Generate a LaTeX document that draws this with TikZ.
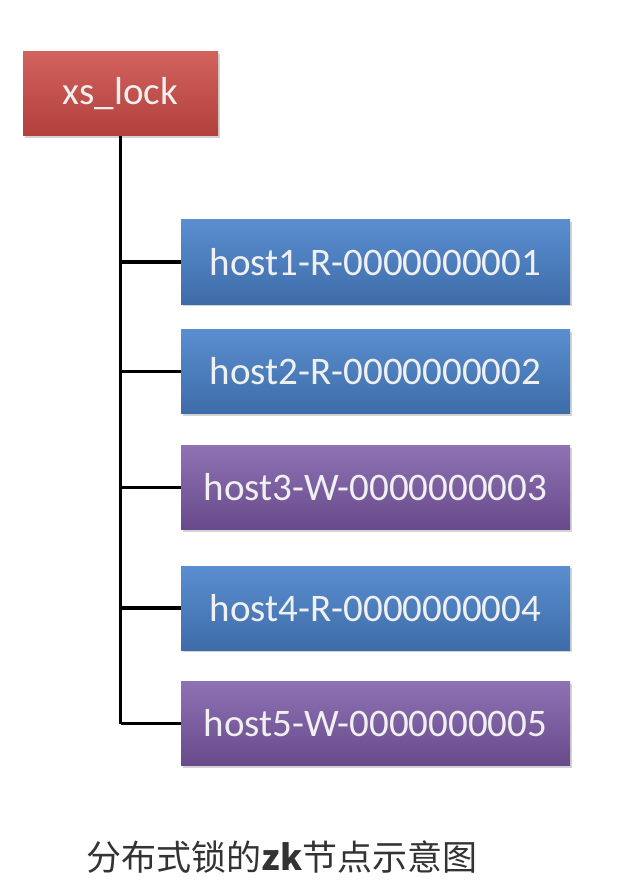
\documentclass[tikz,border=0pt]{standalone}
\usepackage{fontspec}
\setmainfont{Carlito}
\newfontfamily\cjk{Noto Sans CJK SC}
\usepackage{tikz}
\usetikzlibrary{positioning,shadows}

\definecolor{lockTop}{HTML}{D2625E}
\definecolor{lockBot}{HTML}{B2403C}
\definecolor{readTop}{HTML}{5A8ED0}
\definecolor{readBot}{HTML}{3E6CA8}
\definecolor{writeTop}{HTML}{8E72B4}
\definecolor{writeBot}{HTML}{684A8A}
\definecolor{capText}{HTML}{333333}

\begin{document}
\begin{tikzpicture}[x=1pt, y=-1pt]
    \tikzset{
        znode/.style={rectangle, inner sep=0pt, minimum height=84pt, text=white!94!black,
            font=\fontsize{39}{42}\selectfont, drop shadow={shadow xshift=1.5pt, shadow yshift=-2pt, opacity=0.35}},
        rootnode/.style={znode, minimum width=195pt, top color=lockTop, bottom color=lockBot},
        readnode/.style={znode, minimum width=389pt, top color=readTop, bottom color=readBot},
        writenode/.style={znode, minimum width=389pt, top color=writeTop, bottom color=writeBot},
        link/.style={line width=3.5pt, black}
    }

    \useasboundingbox (0,0) rectangle (636,882);

    \node[rootnode] (lock) at (120.5,94) {xs\_lock};
    \node[readnode] (host1) at (375.5,262) {host1-R-0000000001};
    \node[readnode] (host2) at (375.5,371.5) {host2-R-0000000002};
    \node[writenode] (host3) at (375.5,487.5) {host3-W-0000000003};
    \node[readnode] (host4) at (375.5,608) {host4-R-0000000004};
    \node[writenode] (host5) at (375.5,723.5) {host5-W-0000000005};

    \draw[link] (lock.south) -- (lock.south |- host5.west);
    \draw[link] (lock.south |- host1.west) -- (host1.west);
    \draw[link] (lock.south |- host2.west) -- (host2.west);
    \draw[link] (lock.south |- host3.west) -- (host3.west);
    \draw[link] (lock.south |- host4.west) -- (host4.west);
    \draw[link] (lock.south |- host5.west) -- (host5.west);

    \node[text=capText, font=\cjk\fontsize{35}{40}\selectfont] (caption) at (282,857)
        {分布式锁的\textbf{zk}节点示意图};
\end{tikzpicture}
\end{document}
